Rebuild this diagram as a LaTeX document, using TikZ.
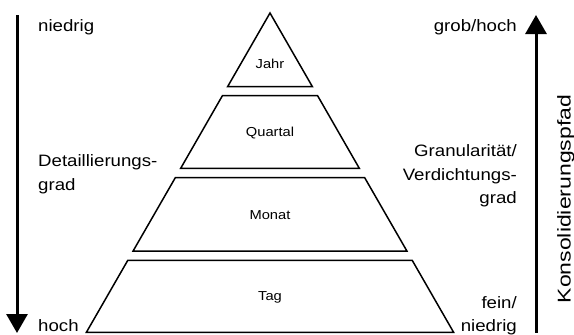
\documentclass[tikz,border=0pt]{standalone}
\usepackage{fontspec}
\setmainfont{Liberation Sans}[FakeStretch=1.13]
\usetikzlibrary{arrows.meta}
\begin{document}
\begin{tikzpicture}[x=1pt,y=-1pt,
  band/.style={draw=black,line width=1.5pt,line join=miter},
  axis/.style={line width=3pt,-{Triangle[length=19pt,width=21pt]}},
  side/.style={inner sep=0pt,font=\fontsize{16.5}{20}\selectfont},
  level/.style={inner sep=0pt,anchor=base,font=\fontsize{13}{15}\selectfont}]
\useasboundingbox (0,0) rectangle (574,335);

% pyramid, cut into four bands (half width = 0.575 * (y - 13))
\draw[band] (270,13) -- (312.3,86.5) -- (227.7,86.5) -- cycle;
\draw[band] (222.4,95.7) -- (317.6,95.7) -- (359.3,168.3) -- (180.7,168.3) -- cycle;
\draw[band] (175.3,177.7) -- (364.7,177.7) -- (406.9,251) -- (133.1,251) -- cycle;
\draw[band] (127.8,260.3) -- (412.2,260.3) -- (453.6,332.3) -- (86.4,332.3) -- cycle;

\node[level] (jahr)    at (270,68.3)  {Jahr};
\node[level] (quartal) at (270,136.5) {Quartal};
\node[level] (monat)   at (270,219.3) {Monat};
\node[level] (tag)     at (270,300.7) {Tag};

% axis on the left: level of detail
\coordinate (dtop) at (17,15);
\coordinate (dbot) at (17,333);
\draw[axis] (dtop) -- (dbot);
\node[side,anchor=base west] (dlow)   at (38,31.5) {niedrig};
\node[side,anchor=base west] (dname1) at (38,166)  {Detaillierungs-};
\node[side,anchor=base west] (dname2) at (38,190)  {grad};
\node[side,anchor=base west] (dhigh)  at (38,331)  {hoch};

% axis on the right: granularity
\coordinate (gbot) at (536,332.5);
\coordinate (gtop) at (536,15);
\draw[axis] (gbot) -- (gtop);
\node[side,anchor=base east] (ghigh)  at (517,31.5)  {grob/hoch};
\node[side,anchor=base east] (gname1) at (517,156.5) {Granularität/};
\node[side,anchor=base east] (gname2) at (517,180)   {Verdichtungs-};
\node[side,anchor=base east] (gname3) at (517,203.5) {grad};
\node[side,anchor=base east] (glow1)  at (517,308)   {fein/};
\node[side,anchor=base east] (glow2)  at (517,331)   {niedrig};

\node[inner sep=0pt,font=\fontsize{18.5}{20}\selectfont,anchor=base,rotate=90]
  (path) at (570.5,199) {\scalebox{1.1}[1]{Konsolidierungspfad}};
\end{tikzpicture}
\end{document}
